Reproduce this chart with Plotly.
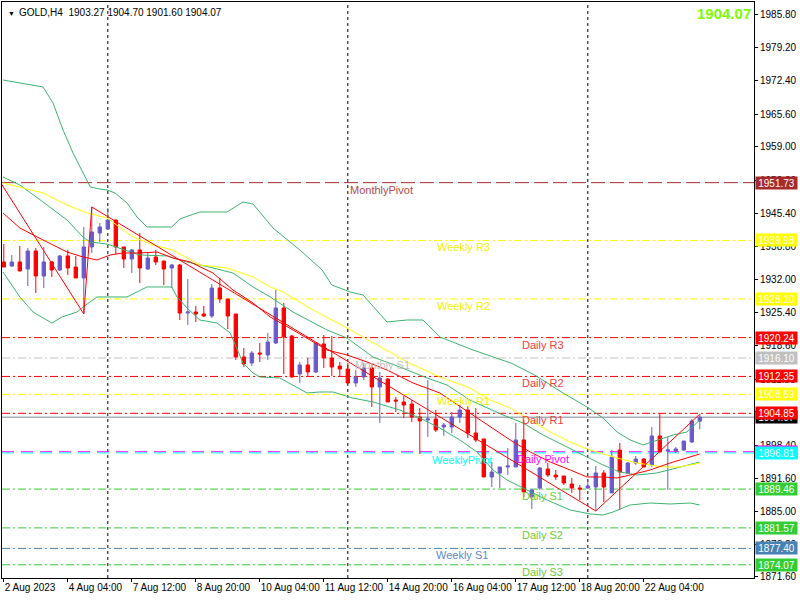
import plotly.graph_objects as go

# GOLD H4 candles, x is the bar number (0 = 2 Aug 2023 20:00)
bar_idx = list(range(88))
opens = [1935.61, 1934.79, 1935.61, 1934.18, 1937.84, 1932.76, 1935.61, 1933.98, 1936.83, 1934.59,
         1932.36, 1938.66, 1941.50, 1942.31, 1944.14, 1938.66, 1936.22, 1938.05, 1934.18, 1936.62,
         1935.81, 1934.39, 1935.00, 1925.24, 1925.45, 1925.04, 1924.63, 1930.32, 1928.09, 1925.04,
         1916.30, 1915.08, 1917.11, 1916.71, 1919.15, 1926.26, 1920.57, 1912.85, 1914.68, 1913.25,
         1918.94, 1916.10, 1914.47, 1913.86, 1911.02, 1912.24, 1914.07, 1910.21, 1911.83, 1907.56,
         1907.16, 1906.75, 1904.11, 1903.50, 1903.70, 1902.08, 1902.08, 1904.11, 1905.53, 1900.86,
         1899.64, 1891.92, 1892.73, 1893.95, 1893.95, 1899.44, 1887.85, 1889.68, 1893.54, 1892.32,
         1892.12, 1890.49, 1889.68, 1889.68, 1889.88, 1892.73, 1888.67, 1897.40, 1892.73, 1894.76,
         1895.57, 1894.36, 1900.25, 1897.20, 1897.20, 1897.40, 1899.03, 1903.27]
highs = [1939.26, 1937.03, 1938.86, 1938.45, 1938.45, 1938.66, 1935.81, 1937.03, 1938.05, 1936.83,
         1942.72, 1946.78, 1943.53, 1946.58, 1944.14, 1938.66, 1938.25, 1941.50, 1937.64, 1938.05,
         1935.81, 1935.20, 1935.20, 1932.15, 1926.67, 1926.67, 1931.14, 1932.36, 1928.09, 1925.04,
         1918.13, 1917.52, 1919.15, 1921.18, 1929.92, 1927.28, 1920.77, 1915.29, 1916.10, 1919.15,
         1920.77, 1920.57, 1915.29, 1915.08, 1913.66, 1915.08, 1915.08, 1913.25, 1912.03, 1908.17,
         1908.38, 1907.56, 1905.94, 1911.63, 1905.53, 1902.89, 1905.13, 1906.55, 1906.34, 1905.94,
         1899.64, 1894.96, 1893.95, 1897.81, 1902.89, 1903.50, 1889.28, 1893.95, 1894.76, 1893.34,
         1892.12, 1891.71, 1890.29, 1891.31, 1894.15, 1893.34, 1897.40, 1898.83, 1894.96, 1896.18,
         1895.78, 1902.08, 1904.92, 1900.05, 1898.01, 1899.23, 1903.70, 1904.70]
lows = [1934.59, 1934.59, 1933.78, 1930.73, 1929.31, 1930.32, 1932.56, 1933.78, 1932.97, 1932.36,
        1925.04, 1937.44, 1939.67, 1942.31, 1937.23, 1934.39, 1933.37, 1931.34, 1933.98, 1935.00,
        1930.93, 1930.32, 1923.82, 1922.81, 1923.41, 1924.43, 1924.23, 1927.28, 1921.99, 1915.69,
        1914.27, 1914.47, 1915.29, 1915.69, 1918.94, 1912.85, 1912.03, 1911.02, 1912.44, 1913.05,
        1914.07, 1912.44, 1912.24, 1910.82, 1910.21, 1911.63, 1906.14, 1902.89, 1907.16, 1905.13,
        1903.91, 1903.09, 1896.59, 1900.05, 1901.06, 1900.25, 1900.86, 1902.89, 1899.84, 1899.03,
        1891.92, 1889.88, 1889.68, 1892.32, 1893.95, 1887.85, 1885.41, 1889.28, 1891.92, 1891.31,
        1890.29, 1888.67, 1887.24, 1889.48, 1885.01, 1886.84, 1888.67, 1885.21, 1892.73, 1894.36,
        1893.95, 1893.95, 1897.00, 1889.28, 1896.79, 1897.20, 1898.83, 1901.60]
closes = [1934.59, 1935.61, 1933.78, 1937.84, 1932.76, 1935.61, 1933.98, 1936.83, 1934.39, 1932.36,
          1938.66, 1941.70, 1942.72, 1944.14, 1938.66, 1936.22, 1938.05, 1934.39, 1936.42, 1935.61,
          1934.18, 1935.00, 1925.24, 1925.45, 1925.04, 1924.63, 1930.32, 1928.09, 1924.63, 1916.30,
          1914.88, 1917.11, 1916.91, 1919.35, 1926.26, 1920.37, 1912.24, 1914.68, 1913.25, 1919.15,
          1916.10, 1914.27, 1913.86, 1911.02, 1912.24, 1914.07, 1910.21, 1912.03, 1907.16, 1907.36,
          1906.55, 1904.11, 1903.30, 1903.70, 1901.47, 1902.48, 1904.11, 1905.53, 1900.86, 1899.44,
          1891.92, 1892.93, 1893.95, 1894.15, 1899.44, 1888.87, 1889.28, 1893.75, 1892.32, 1891.92,
          1890.70, 1889.68, 1889.48, 1890.09, 1892.73, 1889.88, 1895.98, 1892.93, 1894.76, 1895.57,
          1893.95, 1900.25, 1897.00, 1897.40, 1897.61, 1899.23, 1903.30, 1904.07]

# indicator lines (bar position, price)
bb_up_x = [-0.1, 2.0, 4.9, 6.15, 7.4, 8.65, 9.9, 10.8, 12.0, 12.9, 13.9, 15.4, 16.65, 17.9, 21.0, 22.0,
           24.5, 27.9, 29.9, 31.15, 33.65, 37.0, 39.8, 41.0, 43.3, 44.9, 47.9, 50.4, 52.4, 54.5, 58.65,
           61.15, 63.5, 66.4, 69.9, 72.9, 74.9, 76.65, 78.3, 79.9, 81.65, 83.65, 85.4, 87.0]
bb_up_y = [1972.59, 1971.98, 1971.17, 1967.92, 1962.43, 1957.76, 1953.69, 1950.85, 1950.44, 1950.24,
           1949.63, 1947.60, 1944.75, 1942.72, 1942.72, 1944.35, 1945.77, 1945.77, 1947.80, 1947.39,
           1942.52, 1938.05, 1933.98, 1930.93, 1929.51, 1928.90, 1923.41, 1923.82, 1923.82, 1920.37,
           1917.72, 1916.30, 1915.00, 1912.60, 1908.99, 1906.14, 1903.91, 1901.06, 1899.44, 1898.42,
           1899.44, 1900.45, 1901.06, 1903.50]
bb_mid_x = [-0.1, 2.0, 4.9, 7.9, 9.9, 10.8, 12.9, 14.5, 17.0, 20.4, 22.4, 26.15, 28.65, 31.15, 33.3,
            36.15, 40.4, 42.9, 46.15, 49.5, 52.9, 55.4, 58.25, 62.4, 64.9, 67.4, 69.9, 72.4, 74.9,
            77.0, 79.15, 81.65, 84.15, 87.0]
bb_mid_y = [1952.88, 1951.26, 1947.80, 1944.14, 1940.69, 1939.67, 1939.26, 1938.45, 1937.03, 1936.83,
            1935.81, 1934.39, 1933.37, 1930.53, 1928.50, 1925.45, 1921.79, 1920.16, 1916.30, 1914.27,
            1912.03, 1910.61, 1907.56, 1904.52, 1902.89, 1900.45, 1898.42, 1896.39, 1894.36, 1892.93,
            1892.32, 1892.73, 1893.75, 1894.96]
bb_low_x = [-0.1, 2.0, 3.65, 6.0, 7.3, 9.15, 9.9, 11.65, 15.4, 17.9, 21.0, 21.65, 22.9, 24.5, 26.65,
            28.3, 29.9, 31.15, 32.0, 34.5, 37.9, 39.5, 41.15, 43.6, 46.15, 49.5, 52.0, 54.5, 57.0,
            59.15, 61.15, 62.9, 65.4, 67.9, 70.8, 73.3, 74.9, 76.15, 78.3, 80.8, 83.3, 85.8, 87.0]
bb_low_y = [1933.57, 1928.50, 1925.45, 1923.21, 1924.43, 1925.45, 1926.46, 1928.50, 1928.50, 1930.53,
            1930.53, 1928.50, 1926.26, 1923.82, 1923.21, 1921.18, 1915.08, 1913.05, 1912.24, 1912.03,
            1908.99, 1909.19, 1909.19, 1907.97, 1907.16, 1905.53, 1903.91, 1901.87, 1899.44, 1897.00,
            1893.34, 1891.31, 1889.28, 1887.24, 1885.21, 1884.40, 1884.20, 1884.80, 1886.23, 1886.63,
            1886.43, 1886.63, 1886.23]
ma_slow_x = [-0.1, 4.9, 7.9, 10.4, 12.9, 16.15, 18.65, 21.15, 22.9, 24.5, 27.9, 31.15, 33.3, 34.9,
             38.65, 42.9, 46.65, 50.4, 54.5, 58.25, 60.8, 63.3, 65.8, 68.3, 70.8, 73.3, 76.65, 79.15,
             82.4, 84.5, 87.0]
ma_slow_y = [1951.66, 1949.63, 1947.19, 1945.56, 1944.55, 1940.69, 1939.06, 1938.05, 1936.42, 1935.00,
             1934.39, 1932.56, 1930.53, 1929.51, 1925.85, 1922.20, 1918.74, 1915.29, 1912.24, 1910.00,
             1907.56, 1905.94, 1903.50, 1901.06, 1899.03, 1897.40, 1895.78, 1894.76, 1893.95, 1893.95,
             1894.76]
ma_fast_x = [-0.1, 2.0, 4.9, 7.9, 9.9, 11.65, 13.3, 14.9, 17.0, 19.15, 21.15, 23.3, 26.15, 28.65,
             31.15, 33.3, 36.15, 40.4, 42.9, 45.4, 47.9, 51.15, 54.5, 58.25, 60.8, 63.3, 65.8, 68.3,
             70.8, 72.9, 74.9, 76.65, 78.3, 80.8, 83.3, 85.4, 87.0]
ma_fast_y = [1945.56, 1942.52, 1940.08, 1937.64, 1936.62, 1936.01, 1937.03, 1937.44, 1937.44, 1937.64,
             1936.42, 1935.61, 1933.37, 1929.92, 1927.28, 1924.43, 1921.79, 1917.72, 1916.71, 1915.29,
             1913.66, 1911.02, 1908.99, 1904.92, 1902.08, 1899.44, 1897.00, 1894.96, 1893.34, 1891.92,
             1891.92, 1891.71, 1892.32, 1893.34, 1894.76, 1895.78, 1896.59]
zigzag_x = [-1, 10, 11, 74, 87]
zigzag_y = [1953.27, 1925.04, 1946.78, 1885.01, 1904.70]

# pivot levels
level_names = ["MonthlyPivot", "Weekly R3", "Weekly R2", "Daily R3", "Monthly S1", "Daily R2",
               "Weekly R1", "Daily R1", "Daily Pivot", "WeeklyPivot", "Daily S1", "Daily S2",
               "Weekly S1", "Daily S3"]
level_values = [1951.73, 1939.98, 1928.10, 1920.24, 1916.10, 1912.35, 1908.69, 1904.85,
                1897.05, 1896.81, 1889.46, 1881.57, 1877.40, 1874.07]
bid_price = 1904.07

week_starts = [13, 43, 73]
date_ticks = [0, 8, 16, 24, 32, 40, 48, 56, 64, 72, 80]
date_labels = ["2 Aug 2023", "4 Aug 04:00", "7 Aug 12:00", "8 Aug 20:00", "10 Aug 04:00",
               "11 Aug 12:00", "14 Aug 20:00", "16 Aug 04:00", "17 Aug 12:00", "18 Aug 20:00",
               "22 Aug 04:00"]
price_ticks = [1985.80, 1979.20, 1972.40, 1965.60, 1959.00, 1952.20, 1945.40, 1938.80, 1932.00,
               1925.40, 1918.60, 1911.80, 1905.20, 1898.40, 1891.60, 1885.00, 1878.20, 1871.60]

FONT = "Liberation Sans"
BULL = "#6A5ACD"
BEAR = "#FF0000"
BAND = "#3CB371"
DASHDOT = "8px,3px,2px,3px"

# colour, dash, label colour, label x (bar position)
level_style = {
    "MonthlyPivot": ("#A52A2A", "14px,5px", "#B04A4A", 43.0),
    "Weekly R3": ("#FFFF00", DASHDOT, "#F0F000", 53.9),
    "Weekly R2": ("#FFFF00", DASHDOT, "#F0F000", 53.9),
    "Daily R3": ("#FF0000", DASHDOT, "#F03C3C", 64.5),
    "Monthly S1": ("#C0C0C0", DASHDOT, "#C0C0C0", 43.6),
    "Daily R2": ("#FF0000", DASHDOT, "#F03C3C", 64.5),
    "Weekly R1": ("#FFFF00", DASHDOT, "#F0F000", 53.9),
    "Daily R1": ("#FF0000", DASHDOT, "#F03C3C", 64.5),
    "WeeklyPivot": ("#00FFFF", "12px,7px", "#00FFFF", 53.3),
    "Daily Pivot": ("#FF00FF", "12px,7px", "#FF00FF", 63.9),
    "Daily S1": ("#32CD32", DASHDOT, "#6CCB36", 64.5),
    "Daily S2": ("#32CD32", DASHDOT, "#6CCB36", 64.5),
    "Weekly S1": ("#4682B4", DASHDOT, "#5A8AC8", 53.8),
    "Daily S3": ("#32CD32", DASHDOT, "#6CCB36", 64.5),
}

fig = go.Figure()

fig.add_trace(go.Candlestick(
    x=bar_idx, open=opens, high=highs, low=lows, close=closes,
    increasing=dict(line=dict(color=BULL, width=1), fillcolor=BULL),
    decreasing=dict(line=dict(color=BEAR, width=1), fillcolor=BEAR),
    whiskerwidth=0, hoverinfo="skip",
))

for xs, ys, col in [(bb_up_x, bb_up_y, BAND), (bb_low_x, bb_low_y, BAND),
                    (bb_mid_x, bb_mid_y, BAND), (ma_slow_x, ma_slow_y, "#FFFF00"),
                    (ma_fast_x, ma_fast_y, "#FF0000"), (zigzag_x, zigzag_y, "#FF0000")]:
    fig.add_trace(go.Scatter(x=xs, y=ys, mode="lines", line=dict(color=col, width=1),
                             hoverinfo="skip"))

# week separators
for w in week_starts:
    fig.add_shape(type="line", xref="x", yref="paper", x0=w, x1=w, y0=0, y1=1,
                  line=dict(color="black", width=1, dash="3px,3px"), layer="below")

# level lines, labels and price tags
for name, val in zip(level_names, level_values):
    col, dash, lcol, lx = level_style[name]
    fig.add_shape(type="line", xref="paper", yref="y", x0=0, x1=1, y0=val, y1=val,
                  line=dict(color=col, width=1, dash=dash), layer="below")
    fig.add_annotation(x=lx, y=val, xref="x", yref="y", text=name, showarrow=False,
                       xanchor="left", yanchor="top", yshift=1,
                       font=dict(family=FONT, size=11, color=lcol))

fig.add_shape(type="line", xref="paper", yref="y", x0=0, x1=1, y0=bid_price, y1=bid_price,
              line=dict(color="#778899", width=1), layer="below")

tags = [(bid_price, "black")] + [(v, level_style[n][0]) for n, v in zip(level_names, level_values)]
for val, col in tags:
    fig.add_annotation(x=1, y=val, xref="paper", yref="y", text=f"{val:.2f}", showarrow=False,
                       xanchor="left", yanchor="middle", xshift=1, width=41, height=12,
                       bgcolor=col, borderpad=0,
                       font=dict(family=FONT, size=10, color="white"))

# header texts
fig.add_annotation(x=0, y=1, xref="paper", yref="paper", text="▼", showarrow=False,
                   xanchor="left", yanchor="top", xshift=4, yshift=-6,
                   font=dict(family=FONT, size=7, color="black"))
fig.add_annotation(x=0, y=1, xref="paper", yref="paper",
                   text="GOLD,H4  1903.27 1904.70 1901.60 1904.07", showarrow=False,
                   xanchor="left", yanchor="top", xshift=15, yshift=-3,
                   font=dict(family=FONT, size=10, color="black"))
fig.add_annotation(x=1, y=1, xref="paper", yref="paper", text="<b>1904.07</b>",
                   showarrow=False, xanchor="right", yanchor="top", xshift=-1, yshift=-1,
                   font=dict(family=FONT, size=15, color="#7CFC00"))

fig.update_layout(
    width=800, height=600,
    margin=dict(l=2, r=46, t=2, b=22),
    paper_bgcolor="white", plot_bgcolor="white",
    showlegend=False, hovermode=False, boxgap=0.4,
    xaxis=dict(range=[-0.225, 93.775], tickvals=date_ticks, ticktext=date_labels,
               ticks="outside", ticklen=3, tickcolor="black", tickangle=0,
               ticklabelposition="outside right", automargin=False,
               showgrid=False, zeroline=False, showline=True, mirror=True,
               linecolor="black", linewidth=1, rangeslider=dict(visible=False),
               tickfont=dict(family=FONT, size=10, color="black")),
    yaxis=dict(range=[1871.39, 1988.44], side="right", tickvals=price_ticks,
               ticktext=[f"{p:.2f}" for p in price_ticks], ticks="outside", ticklen=3,
               tickcolor="black", showgrid=False, zeroline=False, showline=True, mirror=True,
               linecolor="black", linewidth=1, automargin=False,
               tickfont=dict(family=FONT, size=10, color="black")),
)

# the page body has a default 8px margin; drop it so the chart sits at the window corner
fig.write_html("out.html", config={"displayModeBar": False},
               post_script="document.body.style.margin='0px';")
